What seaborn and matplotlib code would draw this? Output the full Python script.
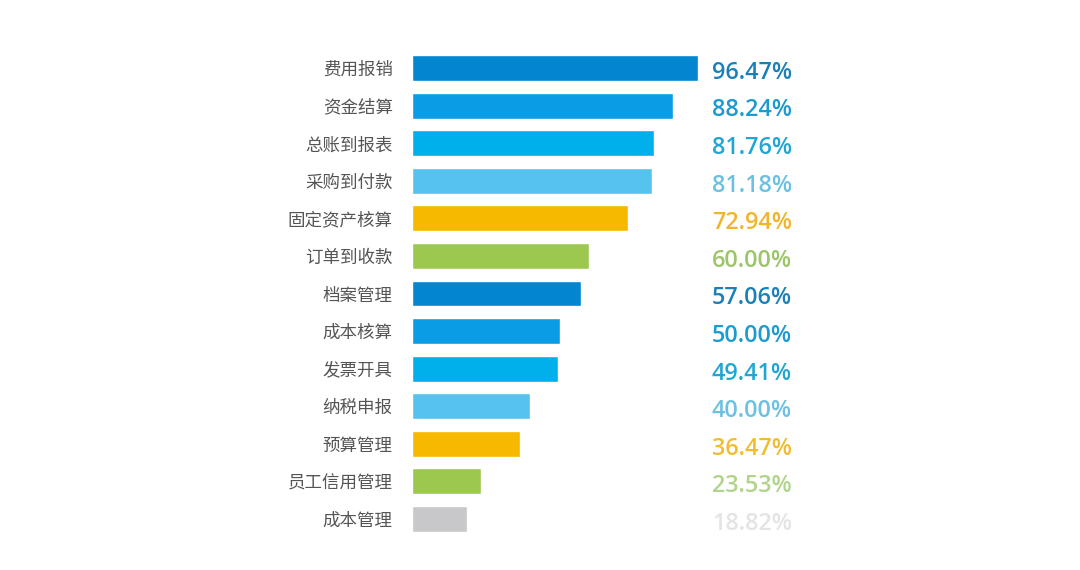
import matplotlib
matplotlib.use("Agg")
import matplotlib.pyplot as plt
import seaborn as sns
import pandas as pd

categories = ["费用报销", "资金结算", "总账到报表", "采购到付款", "固定资产核算", "订单到收款",
              "档案管理", "成本核算", "发票开具", "纳税申报", "预算管理", "员工信用管理", "成本管理"]
values = [96.47, 88.24, 81.76, 81.18, 72.94, 60.00, 57.06, 50.00, 49.41, 40.00, 36.47, 23.53, 18.82]
bar_colors = ["#0385d0", "#0a9ce4", "#00b0ea", "#56c3ef", "#f7b800", "#9dc850",
              "#0385d0", "#0a9ce4", "#00b0ea", "#56c3ef", "#f7b800", "#9dc850", "#c8c8ca"]
text_colors = ["#1a80b8", "#1c9bd0", "#20a6d2", "#6cc1e2", "#f1b52a", "#9cc468",
               "#1a80b8", "#1c9bd0", "#20a6d2", "#6cc1e2", "#f1bd30", "#b0d48a", "#e4e4e6"]

sns.set_theme(style="white")
plt.rcParams['font.family'] = ['Noto Sans CJK SC', 'DejaVu Sans']

df = pd.DataFrame({"cat": categories, "val": values})

fig = plt.figure(figsize=(10.8, 5.7), dpi=100)
ax = fig.add_axes([411.5/1080, 1 - 537.8/570, 380.5/1080, (537.8 - 49.2)/570])
sns.barplot(data=df, x="val", y="cat", hue="cat", palette=bar_colors, orient="h",
            width=0.69, legend=False, ax=ax, saturation=1)
ax.set_xlim(0, 380.5/2.965)
ax.set_ylim(12.5, -0.5)
ax.set_xlabel("")
ax.set_ylabel("")
ax.set_xticks([])
for s in ax.spines.values():
    s.set_visible(False)
ax.tick_params(axis="y", length=0, pad=13.5, labelsize=12.6, labelcolor="#555555")

for i, (v, c) in enumerate(zip(values, text_colors)):
    ax.text(1.0, i + 0.05, f"{v:.2f}%", transform=ax.get_yaxis_transform(), ha="right",
            va="center_baseline", fontsize=16.8, fontweight="semibold", color=c,
            family=["Open Sans", "DejaVu Sans"])

fig.savefig("out.png", dpi=100, facecolor="white")
